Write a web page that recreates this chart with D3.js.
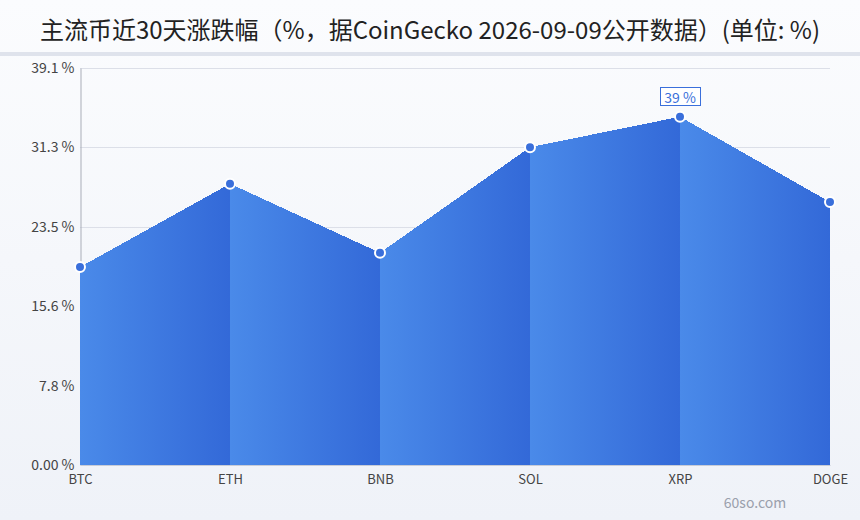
<!DOCTYPE html>
<html>
<head>
<meta charset="utf-8">
<script src="https://cdn.jsdelivr.net/npm/d3@7/dist/d3.min.js"></script>
<style>
  html, body { margin: 0; padding: 0; }
  body { width: 860px; height: 520px; overflow: hidden; font-family: "Noto Sans CJK SC", "Noto Sans", sans-serif; }
</style>
</head>
<body>
<svg id="chart" width="860" height="520"></svg>
<script>
const title = "主流币近30天涨跌幅（%，据CoinGecko 2026-09-09公开数据）(单位: %)";
const categories = ["BTC", "ETH", "BNB", "SOL", "XRP", "DOGE"];
const values = [19.5, 27.7, 20.9, 31.3, 34.3, 25.9];
const yTickValues = [0, 7.82, 15.64, 23.46, 31.28, 39.1];
const yTickLabels = ["0.00 %", "7.8 %", "15.6 %", "23.5 %", "31.3 %", "39.1 %"];
const peakLabel = "39 %";
const peakIndex = 4;
const watermark = "60so.com";

const W = 860, H = 520;
const margin = { left: 80, right: 30, top: 68, bottom: 55 };
const FONT = "'Noto Sans CJK SC', 'Noto Sans', sans-serif";
const svg = d3.select("#chart");
const defs = svg.append("defs");

// background
const bg = defs.append("linearGradient").attr("id", "bg").attr("x1", 0).attr("y1", 0).attr("x2", 0).attr("y2", 1);
bg.append("stop").attr("offset", "0%").attr("stop-color", "#fbfcfe");
bg.append("stop").attr("offset", "100%").attr("stop-color", "#eff2f8");
svg.append("rect").attr("width", W).attr("height", H).attr("fill", "url(#bg)");
svg.append("rect").attr("x", 0).attr("y", 52).attr("width", W).attr("height", 4).attr("fill", "#dfe3ec");

svg.append("text").attr("x", W / 2).attr("y", 39).attr("text-anchor", "middle")
  .attr("font-size", 24).attr("fill", "#222").attr("font-family", FONT).text(title);

const x = d3.scalePoint().domain(categories).range([margin.left, W - margin.right]);
const y = d3.scaleLinear().domain([0, 39.1]).range([H - margin.bottom, margin.top]);

// grid
svg.append("g").selectAll("line").data(yTickValues.slice(1)).join("line")
  .attr("x1", margin.left).attr("x2", W - margin.right)
  .attr("y1", d => Math.round(y(d)) + 0.5).attr("y2", d => Math.round(y(d)) + 0.5)
  .attr("stroke", "#dcdfe8").attr("stroke-width", 1);

// y axis
const yAxis = d3.axisLeft(y).tickValues(yTickValues).tickFormat((d, i) => yTickLabels[i]).tickSize(0).tickPadding(6);
const gy = svg.append("g").attr("transform", `translate(${margin.left + 0.5},0)`).call(yAxis);
gy.select(".domain").attr("stroke", "#a9adb8");
gy.selectAll("text").attr("font-size", 14).attr("fill", "#444").attr("font-family", FONT);

// area segments
const data = categories.map((c, i) => ({ c, v: values[i] }));
for (let i = 0; i < data.length - 1; i++) {
  const a = data[i], b = data[i + 1];
  const gid = "seg" + i;
  const g = defs.append("linearGradient").attr("id", gid).attr("gradientUnits", "userSpaceOnUse")
    .attr("x1", x(a.c)).attr("x2", x(b.c)).attr("y1", 0).attr("y2", 0);
  g.append("stop").attr("offset", "0%").attr("stop-color", "#4a8ae9");
  g.append("stop").attr("offset", "100%").attr("stop-color", "#3369d8");
  const area = d3.area().x(d => x(d.c)).y0(y(0)).y1(d => y(d.v));
  svg.append("path").attr("d", area([a, b])).attr("fill", `url(#${gid})`)
    .attr("shape-rendering", "crispEdges");
}

// x axis
const xAxis = d3.axisBottom(x).tickSize(0).tickPadding(10);
const gx = svg.append("g").attr("transform", `translate(0,${y(0)})`).call(xAxis);
gx.select(".domain").attr("stroke", "#c8ccd6");
gx.selectAll("text").attr("font-size", 13).attr("fill", "#444").attr("font-family", FONT);

// markers
svg.append("g").selectAll("circle").data(data).join("circle")
  .attr("cx", d => x(d.c)).attr("cy", d => y(d.v)).attr("r", 5)
  .attr("fill", "#3a6fdb").attr("stroke", "#fff").attr("stroke-width", 2);

// peak label
const pd = data[peakIndex];
const lx = x(pd.c), ly = y(pd.v) - 14;
const lg = svg.append("g");
const box = lg.append("rect");
const lt = lg.append("text").attr("x", lx).attr("y", ly).attr("text-anchor", "middle")
  .attr("font-size", 14).attr("fill", "#3a6fdb").attr("font-family", FONT).text(peakLabel);
const bb = lt.node().getBBox();
box.attr("x", Math.round(bb.x - 4) + 0.5).attr("y", Math.round(bb.y) + 0.5)
  .attr("width", Math.round(bb.width + 8)).attr("height", Math.round(bb.height - 2))
  .attr("fill", "#fff").attr("stroke", "#3a6fdb").attr("stroke-width", 1);

svg.append("text").attr("x", 755).attr("y", 508).attr("text-anchor", "middle")
  .attr("font-size", 14).attr("fill", "#9aa0ac").attr("font-family", FONT).text(watermark);
</script>
</body>
</html>
